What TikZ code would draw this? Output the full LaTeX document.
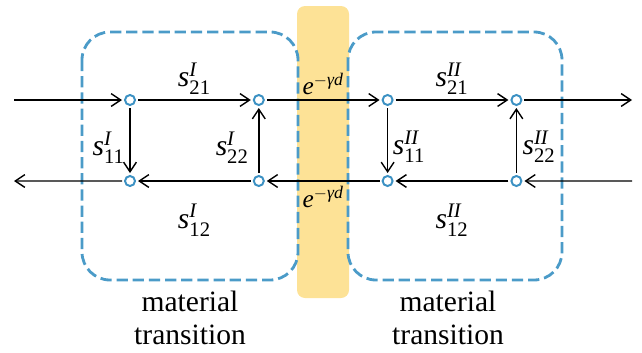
\documentclass[tikz,border=0pt]{standalone}
\usepackage{amsmath}
\usepackage{fontspec}
\setmainfont{Liberation Serif}
\usetikzlibrary{positioning,arrows.meta}
\definecolor{portblue}{RGB}{60,145,195}
\definecolor{boxblue}{RGB}{75,155,200}
\definecolor{bandyellow}{RGB}{253,226,150}
\newcommand{\sparam}[2]{\textit{s}$^{\textit{#2}}_{\text{#1}}$}
\newcommand{\prop}{\textit{e}$^{-\text{\textit{γd}}}$}

\begin{document}
\begin{tikzpicture}[
    node distance=2.025cm and 3.22cm, on grid,
    port/.style={circle, draw=portblue, line width=1.4pt, minimum size=0.25cm, inner sep=0pt, outer sep=0.075cm},
    wave/.style={-{Straight Barb[length=2.4mm, width=3.2mm]}, line width=1pt},
    group/.style={draw=boxblue, line width=2pt, dash pattern=on 8pt off 3.5pt, rounded corners=0.7cm},
    small/.style={font=\fontsize{18}{20}\selectfont},
    font=\fontsize{21}{23.5}\selectfont
]
    \useasboundingbox (0,0) rectangle (16.05,-8.8);
    \fill[bandyellow, rounded corners=0.2cm] (7.425,-0.15) rectangle (8.725,-7.45);
    \draw[group] (2.05,-0.8) rectangle (7.45,-7.0);
    \draw[group] (8.7,-0.8) rectangle (14.05,-7.0);

    \node[port] (aI) at (3.25,-2.5) {};
    \node[port] (bI) [right=of aI] {};
    \node[port] (aII) [right=of bI] {};
    \node[port] (bII) [right=of aII] {};
    \node[port] (cI) [below=of aI] {};
    \node[port] (dI) [below=of bI] {};
    \node[port] (cII) [below=of aII] {};
    \node[port] (dII) [below=of bII] {};

    \coordinate (in) at (0.35,-2.5);
    \coordinate (out) at (15.8,-2.5);
    \coordinate (back) at (0.35,-4.525);
    \coordinate (ret) at (15.8,-4.525);

    \draw[wave] (in) -- (aI);
    \draw[wave] (aI) -- (bI) node[midway, above] {\sparam{21}{I}};
    \draw[wave] (bI) -- (aII) node[midway, above, small] {\prop};
    \draw[wave] (aII) -- (bII) node[midway, above] {\sparam{21}{II}};
    \draw[wave] (bII) -- (out);
    \draw[wave] (ret) -- (dII);
    \draw[wave] (dII) -- (cII) node[midway, below=0.45cm] {\sparam{12}{II}};
    \draw[wave] (cII) -- (dI) node[midway, below, small] {\prop};
    \draw[wave] (dI) -- (cI) node[midway, below=0.45cm] {\sparam{12}{I}};
    \draw[wave] (cI) -- (back);
    \draw[wave] (aI) -- (cI) node[midway, left, yshift=-0.18cm] {\sparam{11}{I}};
    \draw[wave] (dI) -- (bI) node[midway, left=0.12cm, yshift=-0.18cm] {\sparam{22}{I}};
    \draw[wave] (aII) -- (cII) node[midway, right, yshift=-0.15cm] {\sparam{11}{II}};
    \draw[wave] (dII) -- (bII) node[midway, right=0.02cm, yshift=-0.15cm] {\sparam{22}{II}};

    \node[align=center] (matI) at (4.75,-7.95) {material\\transition};
    \node[align=center] (matII) at (11.2,-7.95) {material\\transition};
\end{tikzpicture}
\end{document}
